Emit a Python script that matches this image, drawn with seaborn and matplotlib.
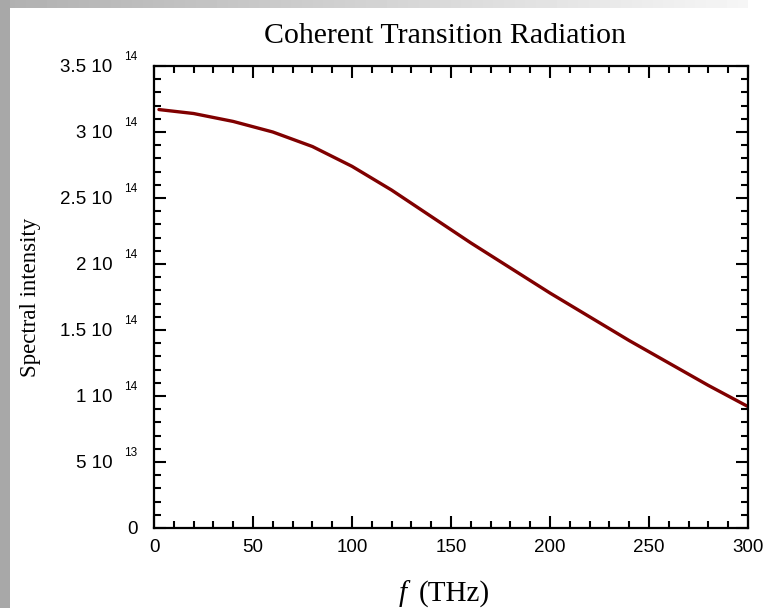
import numpy as np
import pandas as pd
import matplotlib
matplotlib.use("Agg")
import matplotlib.pyplot as plt
from matplotlib.ticker import FixedLocator, MultipleLocator, FuncFormatter
import seaborn as sns

# Spectrum of coherent transition radiation
freq_thz = [2.5, 20, 40, 60, 80, 100, 120, 140, 160, 180, 200, 220, 240, 260, 280, 300]
intensity_e14 = [3.17, 3.14, 3.08, 3.00, 2.89, 2.74, 2.56, 2.36, 2.16, 1.97,
                 1.78, 1.60, 1.42, 1.25, 1.08, 0.92]

y_ticks = [0, 5e13, 1e14, 1.5e14, 2e14, 2.5e14, 3e14, 3.5e14]
x_ticks = [0, 50, 100, 150, 200, 250, 300]

title = "Coherent Transition Radiation"
x_label = "(THz)"
y_label = "Spectral intensity"

df = pd.DataFrame({"f": freq_thz, "I": np.array(intensity_e14) * 1e14})

sns.set_theme(style="white")
plt.rcParams.update({
    "text.color": "black",
    "axes.labelcolor": "black",
    "xtick.color": "black",
    "ytick.color": "black",
})
SANS = "Liberation Sans"
SERIF = "Liberation Serif"

W, H, DPI = 763, 608, 100
fig = plt.figure(figsize=(W / DPI, H / DPI), dpi=DPI, facecolor="white")

# slide-style backdrop: grey strip on the left, fading band along the top
bg = np.ones((H, W))
ramp = np.linspace(0.69, 0.97, W)
bg[:8, :748] = ramp[:748]
bg[:, :10] = 0.66
bg_ax = fig.add_axes([0, 0, 1, 1], zorder=-5)
bg_ax.imshow(bg, cmap="gray", vmin=0, vmax=1, aspect="auto", interpolation="nearest")
bg_ax.set_axis_off()

ax = fig.add_axes([154 / W, 1 - 528 / H, (748 - 154) / W, (528 - 66) / H])
ax.set_facecolor("none")

sns.lineplot(data=df, x="f", y="I", ax=ax, color="#800000", linewidth=2.4)

ax.set_xlim(0, 300)
ax.set_ylim(0, 3.5e14)
ax.xaxis.set_major_locator(FixedLocator(x_ticks))
ax.xaxis.set_minor_locator(MultipleLocator(10))
ax.yaxis.set_major_locator(FixedLocator(y_ticks))
ax.yaxis.set_minor_locator(MultipleLocator(1e13))


def mant_exp(v):
    e = int(np.floor(np.log10(v)))
    m = v / 10 ** e
    return (f"{m:g}", str(e))


def ylab(v, pos):
    if v == 0:
        return "0"
    return f"{mant_exp(v)[0]} 10"


ax.yaxis.set_major_formatter(FuncFormatter(ylab))
ax.xaxis.set_major_formatter(FuncFormatter(lambda v, p: f"{v:g}"))

for s in ax.spines.values():
    s.set_visible(True)
    s.set_color("black")
    s.set_linewidth(1.6)

ax.tick_params(which="both", direction="in", top=True, right=True,
               bottom=True, left=True, color="black", labelcolor="black",
               width=1.5)
ax.tick_params(which="major", length=8.5, labelsize=13.5)
ax.tick_params(which="minor", length=5)
ax.tick_params(axis="y", which="major", pad=30)
ax.tick_params(axis="x", which="major", pad=8)
for lab in ax.get_xticklabels() + ax.get_yticklabels():
    lab.set_fontfamily(SANS)

# the zero label sits right next to the axis
ax.yaxis.get_major_ticks()[0].set_pad(12)

# exponents written as raised small numbers after "10"
for v in y_ticks:
    if v == 0:
        continue
    ax.annotate(mant_exp(v)[1], xy=(0, v), xycoords=ax.get_yaxis_transform(),
                xytext=(-30, 9.5), textcoords="offset pixels",
                ha="left", va="center", fontsize=8.5, fontfamily=SANS,
                color="black", annotation_clip=False)

ax.set_title(title, fontfamily=SERIF, fontsize=21.5, pad=16.5, x=0.49,
             color="black")

ax.set_ylabel(y_label, fontfamily=SERIF, fontsize=16.5, color="black")
ax.yaxis.set_label_coords(-0.19, 0.5)

ax.set_xlabel("")
fig.text(419 / W, 1 - 601 / H, x_label, fontfamily=SERIF, fontsize=21,
         ha="left", va="baseline", color="black")
fig.text(399 / W, 1 - 601 / H, "f", fontfamily=SERIF, fontstyle="italic",
         fontsize=21, ha="left", va="baseline", color="black")

fig.savefig("out.png", dpi=DPI, facecolor="white")
